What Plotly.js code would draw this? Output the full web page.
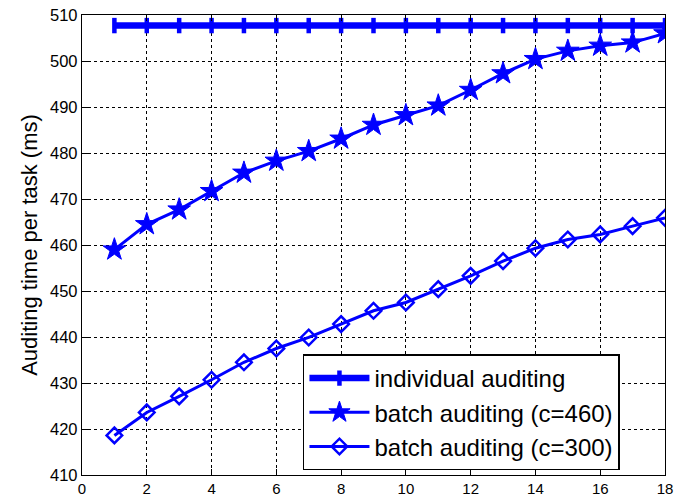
<!DOCTYPE html>
<html><head><meta charset="utf-8">
<script src="https://cdn.plot.ly/plotly-3.0.1.min.js"></script>
<style>body{margin:0;background:#fff}#c{width:685px;height:500px}</style>
</head><body><div id="c"></div>
<script>
const xs = [1,2,3,4,5,6,7,8,9,10,11,12,13,14,15,16,17,18];
const individual = [507.7,507.7,507.7,507.7,507.7,507.7,507.7,507.7,507.7,507.7,507.7,507.7,507.7,507.7,507.7,507.7,507.7,507.7];
const batch460 = [459.0,464.5,467.7,471.7,475.7,478.3,480.4,483.1,486.1,488.2,490.3,493.7,497.3,500.4,502.2,503.3,504.0,506.0];
const batch300 = [418.6,423.6,427.1,430.7,434.5,437.5,439.9,442.8,445.7,447.5,450.4,453.3,456.5,459.3,461.2,462.3,464.1,465.9];
const names = ['individual auditing','batch auditing (c=460)','batch auditing (c=300)'];
const blue = '#0000ff';
const traces = [
 {x:xs,y:individual,name:names[0],mode:'lines+markers',line:{color:blue,width:6.5},
  marker:{symbol:'line-ns-open',size:11,color:blue,line:{color:blue,width:4.5}}},
 {x:xs,y:batch460,name:names[1],mode:'lines+markers',line:{color:blue,width:3},
  marker:{symbol:'star',size:17,color:blue,line:{color:blue,width:1}}},
 {x:xs,y:batch300,name:names[2],mode:'lines+markers',line:{color:blue,width:3},
  marker:{symbol:'diamond-open',size:12,color:blue,line:{color:blue,width:2.5}}}
];
const layout = {
 width:685,height:500,
 margin:{l:82,r:20,t:15,b:25},
 paper_bgcolor:'#fff',plot_bgcolor:'#fff',
 font:{family:'Liberation Sans, Arial, sans-serif',color:'#000'},
 showlegend:true,
 legend:{x:0.379,y:0.262,xanchor:'left',yanchor:'top',bgcolor:'#fff',bordercolor:'#000',borderwidth:1.5,
   font:{size:24,color:'#000'},tracegroupgap:0,itemwidth:60},
 xaxis:{range:[0,18],tickvals:[0,2,4,6,8,10,12,14,16,18],ticks:'inside',ticklen:6,tickcolor:'#000',
   showline:true,linecolor:'#000',linewidth:1.2,mirror:'ticks',
   showgrid:true,gridcolor:'#000',griddash:'dot',gridwidth:1,zeroline:false,
   tickfont:{size:15,color:'#000'}},
 yaxis:{range:[410,510],dtick:10,ticks:'inside',ticklen:6,tickcolor:'#000',
   showline:true,linecolor:'#000',linewidth:1.2,mirror:'ticks',
   showgrid:true,gridcolor:'#000',griddash:'dot',gridwidth:1,zeroline:false,
   tickfont:{size:16.5,color:'#000'},
   title:{text:'Auditing time per task (ms)',font:{size:22,color:'#000'},standoff:6}}
};
Plotly.newPlot('c',traces,layout,{displayModeBar:false,staticPlot:true});
</script></body></html>
